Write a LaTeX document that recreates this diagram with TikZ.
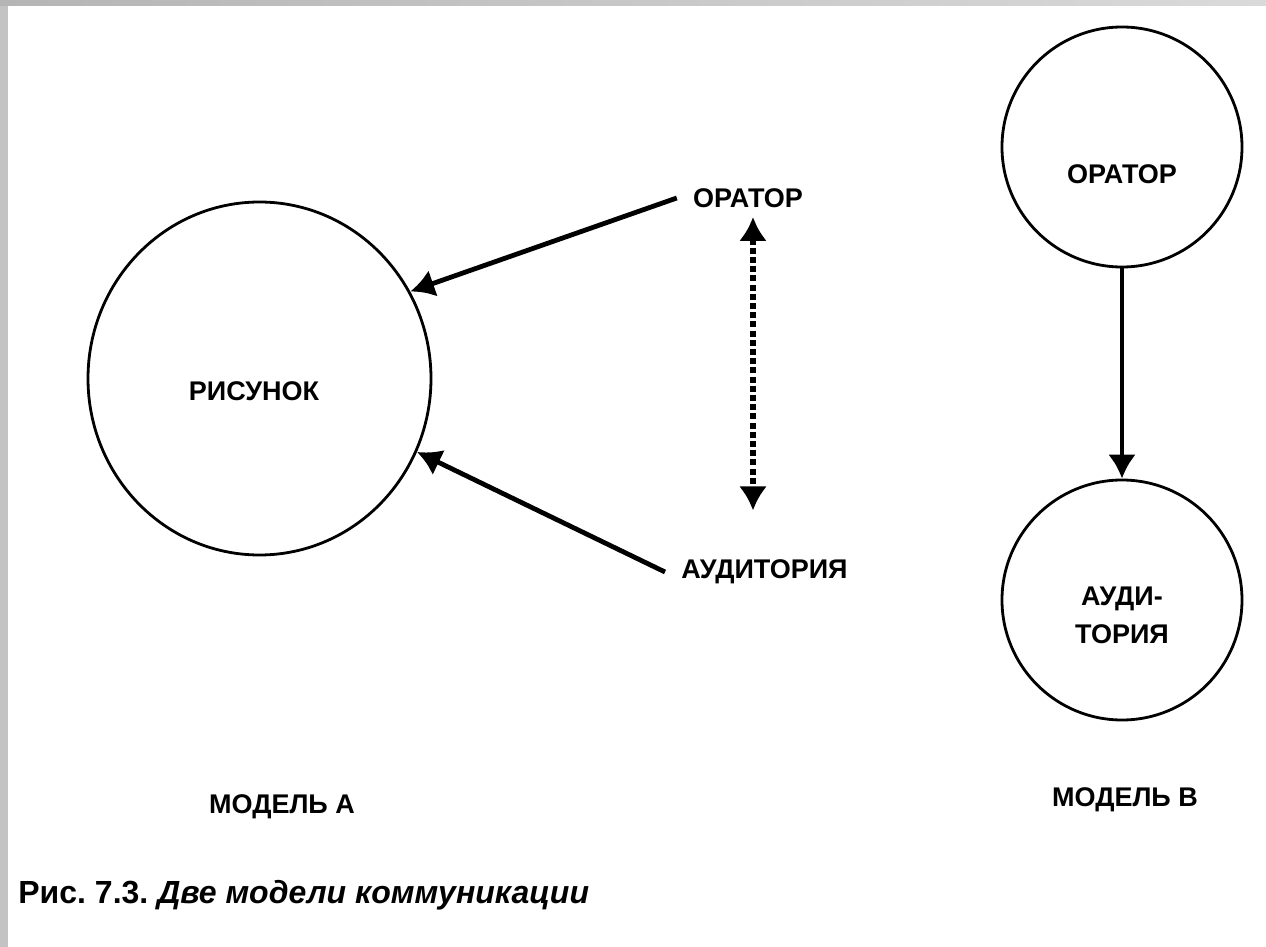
\documentclass[tikz,border=0pt]{standalone}
\usepackage{fontspec}
\setmainfont{Liberation Sans}
\usepackage{tikz}
\usetikzlibrary{shapes.geometric}
\usetikzlibrary{arrows.meta}
\frenchspacing

\begin{document}
\begin{tikzpicture}[x=0.5pt, y=-0.5pt,
		txt/.style={font=\fontsize{13.5}{19}\selectfont\bfseries, inner xsep=8pt, inner ysep=2pt, align=center},
		ring/.style={circle, draw=black, line width=1.4pt, minimum size=120pt, inner sep=0pt},
		tip/.style={-{Latex[length=12pt, width=14pt]}, line width=2.4pt},
		dtip/.style={{Latex[length=12pt, width=14pt]}-{Latex[length=12pt, width=14pt]}, line width=2.6pt, dash pattern=on 3pt off 1.6pt}]
		\useasboundingbox (0,0) rectangle (1266,947);
		\fill[white] (0,0) rectangle (1266,947);
		\shade[left color=gray!58, right color=gray!29] (0,0) rectangle (1266,6);
		\fill[gray!47] (0,6) rectangle (8,947);
		
		\node[ellipse, draw=black, line width=1.4pt, minimum width=171.5pt, minimum height=176.5pt, inner sep=0pt] (pic) at (259.5,378.5) {};
		\node[txt] (picT) at (254,391) {РИСУНОК};
		\node[txt] (orA) at (748,198) {ОРАТОР};
		\node[txt] (auA) at (764.5,572) {АУДИТОРИЯ};
		\coordinate (dotx) at (753,0);
		
		\draw[tip] (orA.west) -- (pic.30);
		\draw[tip] (auA.west) -- (pic.-25);
		\draw[dtip, shorten <=2.5pt, shorten >=22.5pt] (orA.south -| dotx) -- (auA.north -| dotx);
		
		\node[ring] (orB) at (1122,147) {};
		\node[txt] (orBt) at (1122,174) {ОРАТОР};
		\node[ring] (auB) at (1122,600) {};
		\node[txt] (auBt) at (1122,615) {АУДИ-\\ТОРИЯ};
		\draw[tip] (orB) -- (auB);
		
		\node[txt] (modA) at (282,807) {МОДЕЛЬ А};
		\node[txt] (modB) at (1125,800) {МОДЕЛЬ В};
		\node[anchor=base west, inner sep=0pt, font=\fontsize{16}{18}\selectfont\bfseries] (cap) at (18,903) {Рис. 7.3. \textit{Две модели коммуникации}};
	\end{tikzpicture}
\end{document}
